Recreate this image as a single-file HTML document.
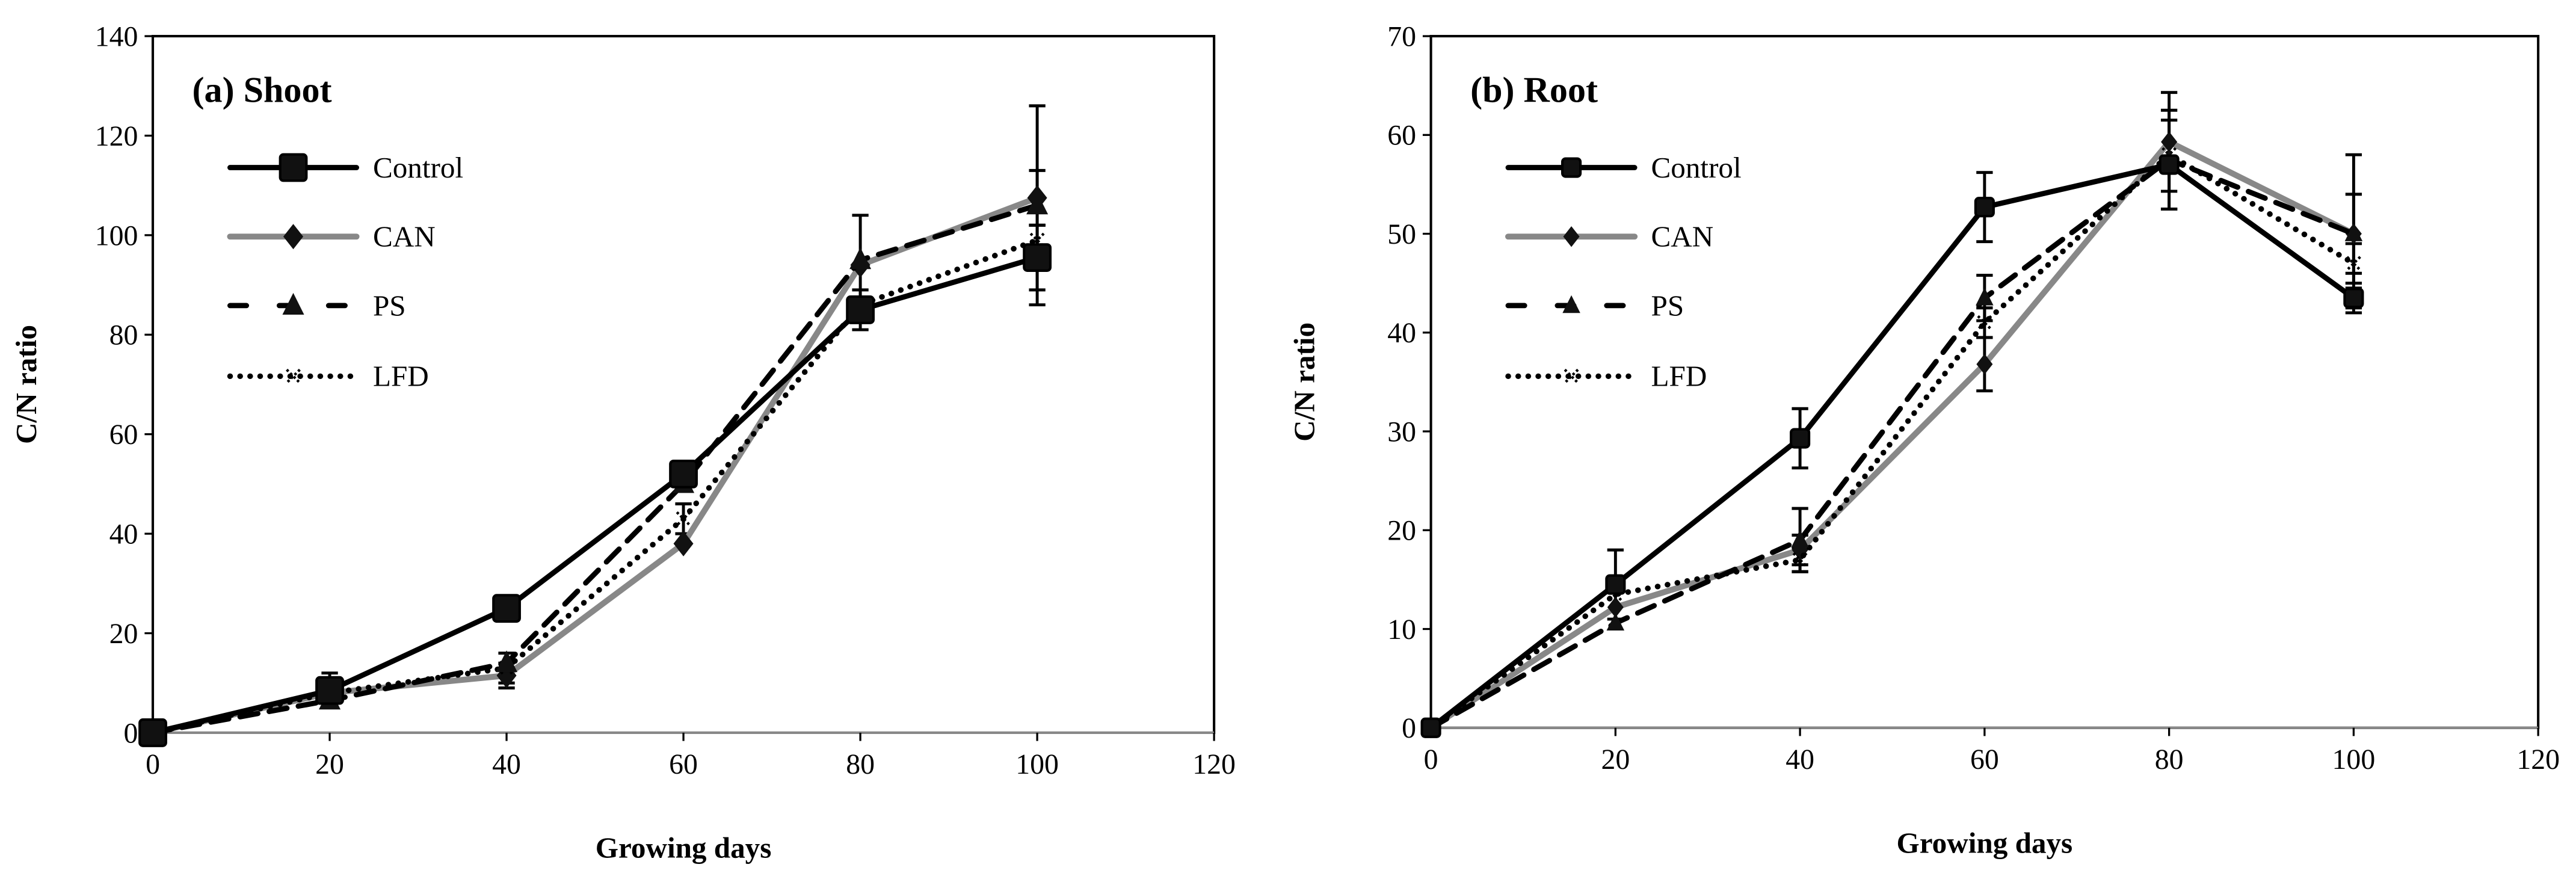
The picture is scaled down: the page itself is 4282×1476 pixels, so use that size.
<!DOCTYPE html>
<html><head><meta charset="utf-8"><style>html,body{margin:0;padding:0;background:#fff}svg{display:block}</style></head>
<body>
<svg id="chart" xmlns="http://www.w3.org/2000/svg" width="4282" height="1476" viewBox="0 0 1568 540.5" font-family="'Liberation Serif', serif"></svg>
<script>
const days = [0, 20, 40, 60, 80, 100];
const seriesNames = ["Control", "CAN", "PS", "LFD"];
const shootControl = [0, 8.5, 25, 52, 85, 95.5];
const shootControlErr = [0, 3.5, 0, 0, 4, 6.5];
const shootCAN = [0, 8, 11.5, 38, 94, 107.5];
const shootCANErr = [0, 0, 2.5, 0, 0, 5.5];
const shootPS = [0, 6.5, 14, 50, 95, 106];
const shootPSErr = [0, 0, 0, 0, 9, 20];
const shootLFD = [0, 8, 13, 43, 86, 99];
const shootLFDErr = [0, 0, 3, 3, 0, 3];
const rootControl = [0, 14.5, 29.3, 52.7, 57, 43.5];
const rootControlErr = [0, 3.5, 3, 3.5, 4.5, 1];
const rootCAN = [0, 12.2, 18, 36.8, 59.3, 50];
const rootCANErr = [0, 0, 1.5, 2.7, 5, 8];
const rootPS = [0, 10.6, 19, 43.5, 57.5, 50];
const rootPSErr = [0, 0, 3.2, 2.3, 5, 4];
const rootLFD = [0, 13.5, 17, 41, 58, 47];
const rootLFDErr = [0, 0, 1.2, 1.5, 0, 2];
const xTicks = [0, 20, 40, 60, 80, 100, 120];
const shootYTicks = [0, 20, 40, 60, 80, 100, 120, 140];
const rootYTicks = [0, 10, 20, 30, 40, 50, 60, 70];

const NS = "http://www.w3.org/2000/svg";
const svg = document.getElementById("chart");
function mk(tag, attrs, parent) {
  const e = document.createElementNS(NS, tag);
  for (const k in attrs) e.setAttribute(k, attrs[k]);
  (parent || svg).appendChild(e);
  return e;
}
const styles = [
  {stroke: "#000", w: 3.2, dash: null, marker: "square"},
  {stroke: "#888", w: 3.6, dash: null, marker: "diamond"},
  {stroke: "#000", w: 3.2, dash: "11,7", marker: "triangle"},
  {stroke: "#000", w: 3.4, dash: "0.1,6", marker: "star"}
];
function marker(g, type, x, y, big) {
  let m;
  const s = big ? 8 : 5.5;
  const k = big ? 1.1 : 0.9;
  if (type === "square") m = mk("rect", {x: x - s, y: y - s, width: 2 * s, height: 2 * s, rx: 2, fill: "#111", stroke: "#000", "stroke-width": 1.5}, g);
  else if (type === "diamond") m = mk("polygon", {points: `${x},${y - 7*k} ${x + 5.5*k},${y} ${x},${y + 7*k} ${x - 5.5*k},${y}`, fill: "#111"}, g);
  else if (type === "triangle") m = mk("polygon", {points: `${x},${y - 7*k} ${x + 6*k},${y + 5*k} ${x - 6*k},${y + 5*k}`, fill: "#111"}, g);
  else {
    m = mk("g", {}, g);
    mk("path", {d: `M${x - 4},${y - 4}L${x + 4},${y + 4}M${x + 4},${y - 4}L${x - 4},${y + 4}`, stroke: "#000", "stroke-width": 1.6, "stroke-dasharray": "1.5,1.5"}, m);
  }
  return m;
}
function panel(cfg) {
  const {left, right, top, bottom, ymax, yTicks, data, errs, title, id} = cfg;
  const g = mk("g", {});
  
  
  const X = v => left + (v / 120) * (right - left);
  const Y = v => bottom - (v / ymax) * (bottom - top);
  mk("rect", {x: left, y: top, width: right - left, height: bottom - top, fill: "none", stroke: "#000", "stroke-width": 1.5}, g);
  mk("line", {x1: left, y1: bottom, x2: right, y2: bottom, stroke: "#888", "stroke-width": 1.5}, g);
  yTicks.forEach(t => {
    mk("line", {x1: left - 5, y1: Y(t), x2: left, y2: Y(t), stroke: "#000", "stroke-width": 1.2}, g);
    const tx = mk("text", {x: left - 9, y: Y(t) + 6, "font-size": 17.5, "text-anchor": "end"}, g);
    tx.textContent = t;
    
    
  });
  xTicks.forEach(t => {
    mk("line", {x1: X(t), y1: bottom, x2: X(t), y2: bottom + 5, stroke: "#000", "stroke-width": 1.2}, g);
    const tx = mk("text", {x: X(t), y: bottom + 25, "font-size": 17.5, "text-anchor": "middle"}, g);
    tx.textContent = t;
    
    
  });
  const yl = mk("text", {x: 0, y: 0, "font-size": 18, "font-weight": "bold", "text-anchor": "middle", transform: `translate(${left - 71},${(top + bottom) / 2}) rotate(-90)`}, g);
  yl.textContent = "C/N ratio";
  
  
  const xl = mk("text", {x: (left + right) / 2, y: bottom + 76, "font-size": 18, "font-weight": "bold", "text-anchor": "middle"}, g);
  xl.textContent = "Growing days";
  
  
  const tt = mk("text", {x: left + 24, y: 62, "font-size": 22, "font-weight": "bold"}, g);
  tt.textContent = title;
  
  
  data.forEach((vals, si) => {
    vals.forEach((v, i) => {
      const e = errs[si][i];
      if (!e) return;
      const eb = mk("path", {d: `M${X(days[i])},${Y(v - e)}L${X(days[i])},${Y(v + e)}M${X(days[i]) - 5},${Y(v + e)}h10M${X(days[i]) - 5},${Y(v - e)}h10`, stroke: "#000", "stroke-width": 1.8, fill: "none"}, g);
      
      
    });
  });
  const order = [1, 3, 2, 0];
  order.forEach(si => {
    const st = styles[si];
    const pts = data[si].map((v, i) => `${X(days[i])},${Y(v)}`).join(" ");
    const a = {points: pts, fill: "none", stroke: st.stroke, "stroke-width": st.w, "stroke-linejoin": "round", "stroke-linecap": "round"};
    if (st.dash) a["stroke-dasharray"] = st.dash;
    const pl = mk("polyline", a, g);
    
    
    data[si].forEach((v, i) => {
      const m = marker(g, st.marker, X(days[i]), Y(v), id === "shoot");
      
      
    });
  });
  const rows = [102, 144, 186, 229];
  seriesNames.forEach((n, si) => {
    const st = styles[si];
    const lg = mk("g", {}, g);
    
    
    const x0 = left + 47, x1 = left + 124, y = rows[si];
    const a = {x1: x0, y1: y, x2: x1, y2: y, stroke: st.stroke, "stroke-width": st.w, "stroke-linecap": "round"};
    if (st.dash) a["stroke-dasharray"] = st.dash === "11,7" ? "10,20" : st.dash;
    mk("line", a, lg);
    marker(lg, st.marker, (x0 + x1) / 2, y, id === "shoot");
    const t = mk("text", {x: x1 + 10, y: y + 6, "font-size": 18}, lg);
    t.textContent = n;
  });
}
panel({id: "shoot", left: 93, right: 739, top: 22, bottom: 446, ymax: 140, yTicks: shootYTicks,
  data: [shootControl, shootCAN, shootPS, shootLFD], errs: [shootControlErr, shootCANErr, shootPSErr, shootLFDErr], title: "(a) Shoot"});
panel({id: "root", left: 871, right: 1545, top: 22, bottom: 443, ymax: 70, yTicks: rootYTicks,
  data: [rootControl, rootCAN, rootPS, rootLFD], errs: [rootControlErr, rootCANErr, rootPSErr, rootLFDErr], title: "(b) Root"});
</script>
</body></html>
